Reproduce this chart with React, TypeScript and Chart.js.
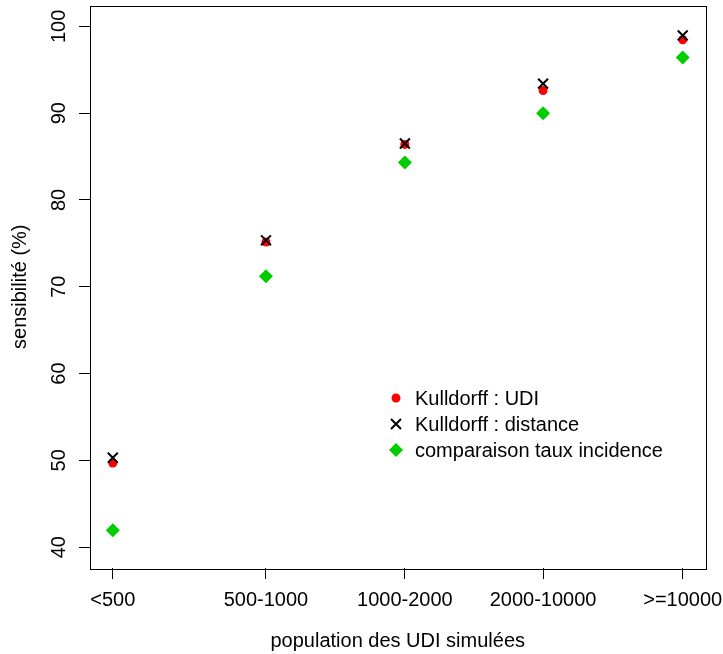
import React, { useEffect, useRef } from "react";
import { Chart, registerables } from "chart.js";

Chart.register(...registerables);

const categories = ["<500", "500-1000", "1000-2000", "2000-10000", ">=10000"];
const xPositions = [1, 2.075, 3.05, 4.02, 5];
const kulldorffUDI = [49.7, 75.15, 86.4, 92.6, 98.45];
const kulldorffDistance = [50.3, 75.35, 86.5, 93.4, 98.95];
const comparaisonTaux = [41.95, 71.2, 84.3, 90.0, 96.4];
const yTicks = [40, 50, 60, 70, 80, 90, 100];
const legendLabels = ["Kulldorff : UDI", "Kulldorff : distance", "comparaison taux incidence"];

const RED = "#FF0000";
const GREEN = "#00CD00";
const FONT = "'Liberation Sans', Arial, sans-serif";

const zeroPad = (scale: any) => {
  scale.paddingTop = 0;
  scale.paddingBottom = 0;
  scale.paddingLeft = 0;
  scale.paddingRight = 0;
};

export default function App() {
  const ref = useRef<HTMLCanvasElement | null>(null);

  useEffect(() => {
    document.body.style.margin = "0";
    const canvas = ref.current;
    if (!canvas) return;

    const boxPlugin = {
      id: "rbox",
      afterDraw(chart: any) {
        const { ctx, chartArea } = chart;
        const y = chart.scales.y;
        ctx.save();
        ctx.strokeStyle = "#000";
        ctx.lineWidth = 1;
        ctx.strokeRect(
          Math.round(chartArea.left) + 0.5,
          Math.round(chartArea.top) + 0.5,
          Math.round(chartArea.right - chartArea.left),
          Math.round(chartArea.bottom - chartArea.top)
        );
        // y tick labels, rotated like R
        ctx.fillStyle = "#000";
        ctx.font = `20px ${FONT}`;
        ctx.textAlign = "center";
        ctx.textBaseline = "middle";
        yTicks.forEach((v) => {
          const py = y.getPixelForValue(v);
          ctx.save();
          ctx.translate(chartArea.left - 31, py);
          ctx.rotate(-Math.PI / 2);
          ctx.fillText(String(v), 0, 0);
          ctx.restore();
        });
        // legend
        const lx = chartArea.left + 306;
        const ly = [398, 424, 450];
        ctx.textAlign = "left";
        ctx.textBaseline = "middle";
        ly.forEach((yy, i) => {
          ctx.fillStyle = "#000";
          ctx.fillText(legendLabels[i], lx + 19, yy + 1);
          if (i === 0) {
            ctx.beginPath();
            ctx.fillStyle = RED;
            ctx.arc(lx, yy, 4.5, 0, Math.PI * 2);
            ctx.fill();
          } else if (i === 1) {
            ctx.beginPath();
            ctx.strokeStyle = "#000";
            ctx.lineWidth = 2;
            const r = 5;
            ctx.moveTo(lx - r, yy - r);
            ctx.lineTo(lx + r, yy + r);
            ctx.moveTo(lx + r, yy - r);
            ctx.lineTo(lx - r, yy + r);
            ctx.stroke();
          } else {
            ctx.beginPath();
            ctx.fillStyle = GREEN;
            const r = 7;
            ctx.moveTo(lx, yy - r);
            ctx.lineTo(lx + r, yy);
            ctx.lineTo(lx, yy + r);
            ctx.lineTo(lx - r, yy);
            ctx.closePath();
            ctx.fill();
          }
        });
        ctx.restore();
      },
    };

    const chart = new Chart(canvas, {
      type: "scatter",
      data: {
        datasets: [
          {
            label: legendLabels[1],
            data: xPositions.map((x, i) => ({ x, y: kulldorffDistance[i] })),
            pointStyle: "crossRot",
            pointRadius: 7,
            borderColor: "#000",
            backgroundColor: "#000",
            borderWidth: 2,
          },
          {
            label: legendLabels[0],
            data: xPositions.map((x, i) => ({ x, y: kulldorffUDI[i] })),
            pointStyle: "circle",
            pointRadius: 4.5,
            backgroundColor: RED,
            borderColor: RED,
            borderWidth: 0,
          },
          {
            label: legendLabels[2],
            data: xPositions.map((x, i) => ({ x, y: comparaisonTaux[i] })),
            pointStyle: "rectRot",
            pointRadius: 7,
            backgroundColor: GREEN,
            borderColor: GREEN,
            borderWidth: 0,
          },
        ],
      },
      options: {
        animation: false,
        responsive: false,
        devicePixelRatio: 1,
        layout: { autoPadding: false, padding: { left: 0, right: 17.5, top: 5.5, bottom: 0 } },
        plugins: {
          legend: { display: false },
          tooltip: { enabled: false },
        },
        scales: {
          x: {
            type: "linear",
            min: 0.84,
            max: 5.16,
            afterBuildTicks: (scale: any) => {
              scale.ticks = xPositions.map((v) => ({ value: v }));
            },
            afterFit: (scale: any) => {
              scale.height = 86;
              zeroPad(scale);
            },
            border: { display: false },
            grid: {
              drawOnChartArea: false,
              drawTicks: true,
              tickLength: 11,
              color: "#000",
              lineWidth: 1,
            },
            ticks: {
              autoSkip: false,
              maxRotation: 0,
              minRotation: 0,
              padding: 9,
              color: "#000",
              font: { family: FONT, size: 20 },
              callback: (_v: any, i: number) => categories[i],
            },
            title: {
              display: true,
              text: "population des UDI simulées",
              color: "#000",
              font: { family: FONT, size: 20 },
              padding: { top: 0, bottom: 1 },
            },
          },
          y: {
            type: "linear",
            min: 37.6,
            max: 102.4,
            afterBuildTicks: (scale: any) => {
              scale.ticks = yTicks.map((v) => ({ value: v }));
            },
            afterFit: (scale: any) => {
              scale.width = 90;
              zeroPad(scale);
            },
            border: { display: false },
            grid: {
              drawOnChartArea: false,
              drawTicks: true,
              tickLength: 11,
              color: "#000",
              lineWidth: 1,
            },
            ticks: { display: false },
            title: {
              display: true,
              text: "sensibilité (%)",
              color: "#000",
              font: { family: FONT, size: 20 },
              padding: { top: 8, bottom: 0 },
            },
          },
        },
      },
      plugins: [boxPlugin],
    } as any);

    return () => chart.destroy();
  }, []);

  return (
    <div style={{ width: 723, height: 654, background: "#fff" }}>
      <canvas ref={ref} width={723} height={654} style={{ display: "block" }} />
    </div>
  );
}
